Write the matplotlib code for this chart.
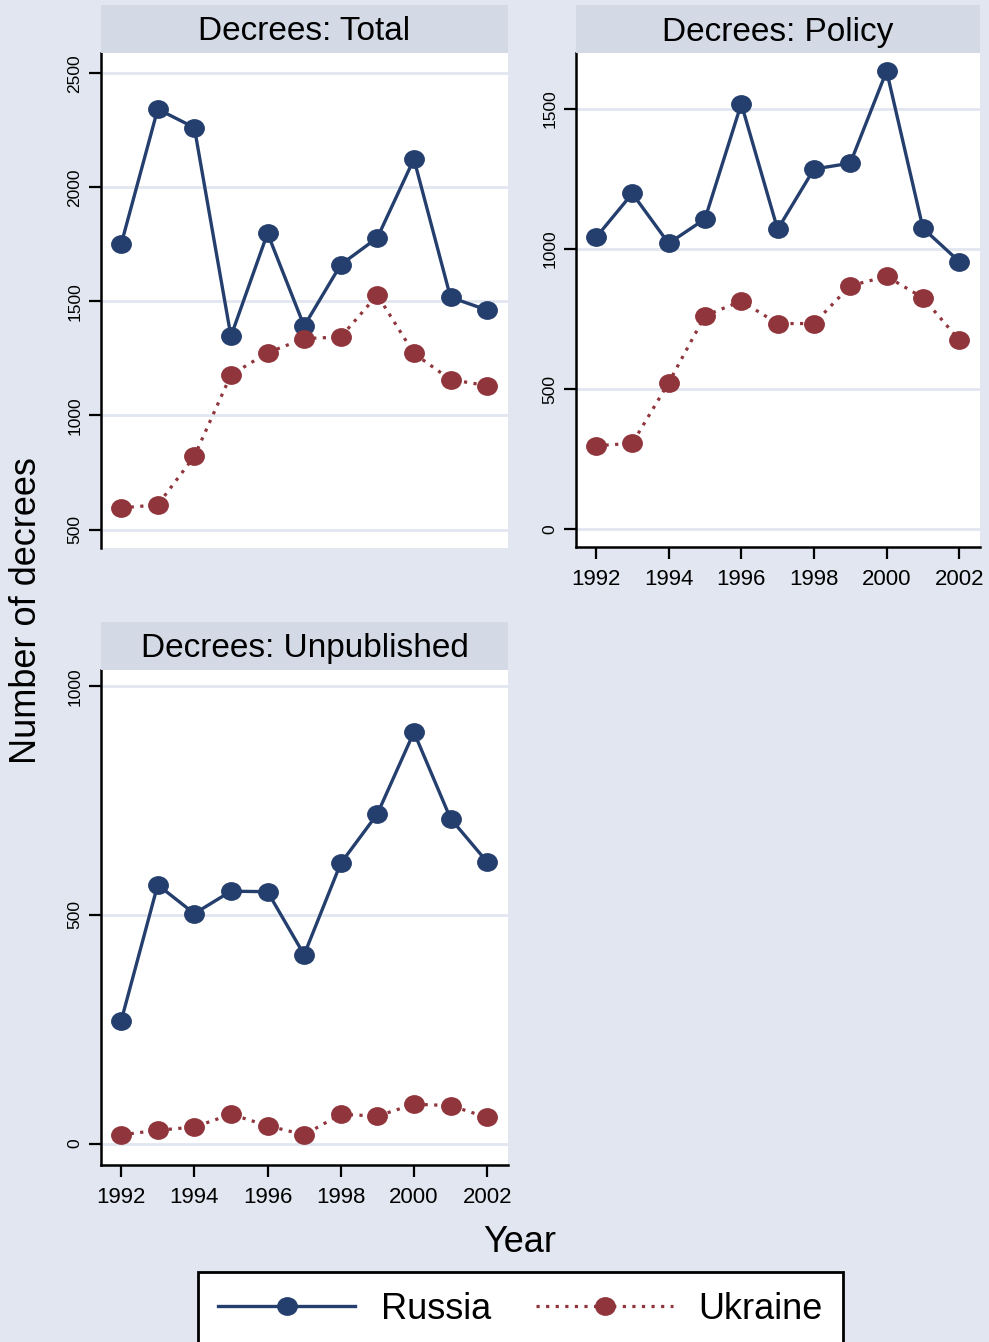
import numpy as np
import matplotlib.pyplot as plt
from matplotlib.path import Path
from matplotlib.patches import Rectangle
from matplotlib.lines import Line2D

plt.rcParams['font.family'] = ['Liberation Sans', 'DejaVu Sans']

# data
years = [1992, 1993, 1994, 1995, 1996, 1997, 1998, 1999, 2000, 2001, 2002]

total_russia = [1750, 2343, 2262, 1347, 1799, 1392, 1661, 1779, 2124, 1518, 1462]
total_ukraine = [595, 608, 821, 1178, 1275, 1337, 1344, 1528, 1272, 1157, 1131]

policy_russia = [1041, 1198, 1020, 1107, 1518, 1070, 1285, 1306, 1635, 1074, 955]
policy_ukraine = [298, 307, 523, 762, 814, 734, 734, 869, 902, 826, 675]

unpub_russia = [268, 566, 503, 552, 551, 413, 613, 721, 900, 711, 616]
unpub_ukraine = [19, 29, 36, 64, 39, 19, 64, 60, 86, 83, 57]

titles = ['Decrees: Total', 'Decrees: Policy', 'Decrees: Unpublished']
yticks = [[500, 1000, 1500, 2000, 2500], [0, 500, 1000, 1500], [0, 500, 1000]]
ylims = [(419, 2589), (-63, 1699), (-47, 1036)]
xticks = [1992, 1994, 1996, 1998, 2000, 2002]

# colours (Stata s2color look)
bg = '#e1e6f0'
band = '#d3d9e5'
grid = '#e1e6f0'
navy = '#243f6e'
maroon = '#90353b'

W, H = 989, 1342
fig = plt.figure(figsize=(W / 100, H / 100), dpi=100)
fig.patch.set_facecolor(bg)

# slightly wide round markers, like the original
circ = Path.unit_circle()
ell = Path(circ.vertices * np.array([1.12, 1.0]), circ.codes)

# panel boxes in pixels: left, right, band top, plot top, plot bottom
boxes = [(101, 508, 5, 53, 548),
         (576, 980, 5, 53, 547),
         (101, 508, 622, 670, 1165)]
series = [(total_russia, total_ukraine),
          (policy_russia, policy_ukraine),
          (unpub_russia, unpub_ukraine)]

for i, (l, r, bt, pt, pb) in enumerate(boxes):
    ax = fig.add_axes([l / W, 1 - pb / H, (r - l) / W, (pb - pt) / H])
    ax.set_facecolor('white')

    # title band
    fig.patches.append(Rectangle((l / W, 1 - pt / H), (r - l) / W, (pt - bt) / H,
                                 transform=fig.transFigure, facecolor=band,
                                 edgecolor='none', zorder=0))
    fig.text((l + r) / 2 / W, 1 - ((bt + pt) / 2 + 3) / H, titles[i],
             ha='center', va='center', fontsize=24)

    rus, ukr = series[i]
    ax.plot(years, rus, color=navy, lw=2.4, marker=ell, ms=14,
            mec=navy, mfc=navy, zorder=3, clip_on=False)
    ax.plot(years, ukr, color=maroon, lw=2.3, ls=(0, (1, 2)), marker=ell, ms=14,
            mec=maroon, mfc=maroon, zorder=3, clip_on=False)

    ax.set_xlim(1991.45, 2002.57)
    ax.set_ylim(*ylims[i])
    ax.set_yticks(yticks[i])
    ax.set_yticklabels([str(v) for v in yticks[i]], rotation=90, va='center')
    ax.grid(axis='y', color=grid, lw=2)
    ax.set_axisbelow(True)

    for s in ['top', 'right']:
        ax.spines[s].set_visible(False)
    ax.spines['left'].set_linewidth(1.8)
    ax.spines['bottom'].set_linewidth(1.8)
    ax.tick_params(axis='y', length=8.5, width=1.6, labelsize=12.5, pad=5)

    if i == 0:
        ax.spines['bottom'].set_visible(False)
        ax.set_xticks([])
    else:
        ax.set_xticks(xticks)
        ax.tick_params(axis='x', length=8.5, width=1.6, labelsize=16, pad=7)

fig.text(27 / W, 1 - 611 / H, 'Number of decrees', rotation=90,
         ha='center', va='center', fontsize=26)
fig.text(520 / W, 1 - 1242 / H, 'Year', ha='center', va='center', fontsize=26)

handles = [Line2D([], [], color=navy, lw=2.4, marker=ell, ms=14),
           Line2D([], [], color=maroon, lw=2.3, ls=(0, (1, 2)), marker=ell, ms=14)]
leg = fig.legend(handles, ['Russia', 'Ukraine'], loc='upper center',
                 bbox_to_anchor=(520.5 / W, 1 - 1272 / H), ncol=2, fontsize=26,
                 frameon=True, fancybox=False, edgecolor='black', framealpha=1,
                 handlelength=3.8, handletextpad=0.7, columnspacing=1.25,
                 borderpad=0.55, borderaxespad=0)
leg.get_frame().set_linewidth(2)
leg.get_frame().set_facecolor('white')

fig.savefig('out.png', dpi=100, facecolor=bg)
